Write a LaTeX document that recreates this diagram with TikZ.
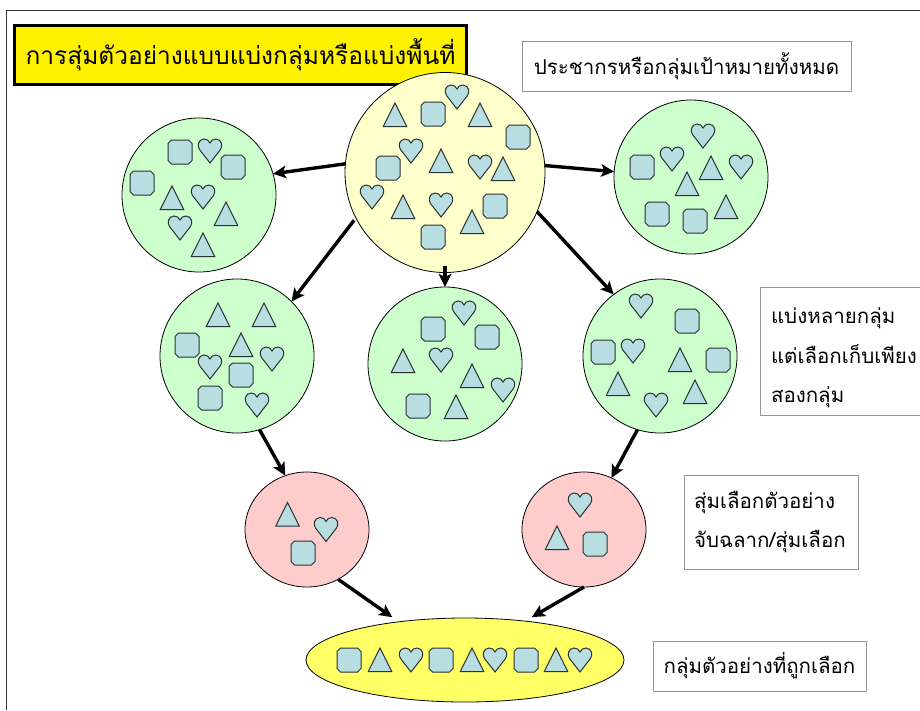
\documentclass[tikz,border=0pt]{standalone}
\usepackage{fontspec}
\usetikzlibrary{shapes.geometric,arrows.meta}
\newfontfamily\thaifont[Script=Thai]{Loma}
\definecolor{shapefill}{RGB}{184,222,226}
\definecolor{shapeedge}{RGB}{40,50,50}
\definecolor{biglight}{RGB}{255,255,204}
\definecolor{greenfill}{RGB}{204,255,204}
\definecolor{redfill}{RGB}{255,204,204}
\definecolor{ovalfill}{RGB}{255,255,102}
\definecolor{boxedge}{RGB}{150,150,150}
\tikzset{
 item/.style={fill=shapefill,draw=shapeedge,line width=1pt,line join=miter},
 blob/.style={ellipse,draw=black,line width=0.8pt,inner sep=0pt,outer sep=0pt},
 note/.style={draw=boxedge,line width=0.9pt,fill=white,inner sep=0pt,outer sep=0pt,font=\thaifont\fontsize{20.5}{39.5}\selectfont,anchor=north west,align=left},
 link/.style={line width=3.4pt,draw=black,-{Stealth[length=13pt,width=12.5pt,inset=3pt]}}
}
\newcommand{\oct}[2]{\draw[item,shift={(#1,#2)}] (-8.5,-12)--(8.5,-12)--(12,-8.5)--(12,8.5)--(8.5,12)--(-8.5,12)--(-12,8.5)--(-12,-8.5)--cycle;}
\newcommand{\tri}[2]{\draw[item,shift={(#1,#2)}] (0,-12)--(11.7,11.5)--(-11.7,11.5)--cycle;}
\newcommand{\hrt}[2]{\draw[item,shift={(#1,#2)}] (0,12) -- (-10.5,-1.5) .. controls (-13,-5) and (-12,-11.5) .. (-6,-12) .. controls (-3,-12) and (-1,-10.5) .. (0,-8) .. controls (1,-10.5) and (3,-12) .. (6,-12) .. controls (12,-11.5) and (13,-5) .. (10.5,-1.5) -- cycle;}
\begin{document}
\begin{tikzpicture}[x=1pt,y=-1pt]
\useasboundingbox (0,0) rectangle (920,710);
\fill[white] (0,0) rectangle (920,710);
\coordinate (frameA) at (6.3,710);
\coordinate (frameB) at (6.3,10.7);
\coordinate (frameC) at (920,10.7);
\draw[draw=black!80,line width=0.8pt] (frameA)--(frameB)--(frameC);
\node[draw=black,fill=yellow,line width=3pt,minimum width=452pt,minimum height=59pt,inner sep=0pt,anchor=north west,font=\thaifont\fontsize{24.5}{28}\selectfont] (title) at (13,24) {การสุ่มตัวอย่างแบบแบ่งกลุ่มหรือแบ่งพื้นที่};
\node[note,minimum width=329pt,minimum height=50pt,anchor=north west,align=center] (popbox) at (522,41) {ประชากรหรือกลุ่มเป้าหมายทั้งหมด};
\node[blob,fill=biglight,minimum width=200pt,minimum height=200pt] (big) at (445,172.5) {};
\node[blob,fill=greenfill,minimum width=154pt,minimum height=154pt] (gl) at (199,195) {};
\node[blob,fill=greenfill,minimum width=154pt,minimum height=154pt] (gr) at (691,177) {};
\node[blob,fill=greenfill,minimum width=154pt,minimum height=154pt] (ml) at (237,356) {};
\node[blob,fill=greenfill,minimum width=154pt,minimum height=154pt] (mc) at (445,364) {};
\node[blob,fill=greenfill,minimum width=154pt,minimum height=154pt] (mr) at (660,356) {};
\node[blob,fill=redfill,minimum width=124pt,minimum height=115pt] (rl) at (307,529.5) {};
\node[blob,fill=redfill,minimum width=124pt,minimum height=115pt] (rr) at (584,529.5) {};
\node[blob,fill=ovalfill,minimum width=318pt,minimum height=84pt] (oval) at (465,660) {};
\node[note,text width=161pt,minimum height=128pt,anchor=north west] (splitbox) at (760,287) {\rule{0pt}{30pt}\hspace*{11pt}แบ่งหลายกลุ่ม\\\hspace*{11pt}แต่เลือกเก็บเพียง\\\hspace*{11pt}สองกลุ่ม};
\node[note,text width=174pt,minimum height=94pt] (drawbox) at (684,475) {\hspace*{10pt}สุ่มเลือกตัวอย่าง\\\hspace*{10pt}จับฉลาก/สุ่มเลือก};
\node[note,minimum width=213pt,minimum height=50pt,align=center] (resbox) at (653,641) {กลุ่มตัวอย่างที่ถูกเลือก};
% big
\tri{395}{115}\oct{433}{114}\hrt{457}{97}\tri{480}{115}\oct{518}{137}\hrt{411}{151}\tri{441}{161}\hrt{480}{167}\tri{503}{169}\oct{388}{168}\hrt{372}{197}\tri{403}{207}\hrt{441}{205}\oct{495}{206}\tri{472}{222}\oct{433}{237}
% left
\oct{180}{152}\hrt{210}{151}\oct{233}{167}\oct{142}{183}\tri{172}{198}\hrt{203}{197}\tri{226}{214}\hrt{180}{228}\tri{203}{245}
% right
\hrt{703}{136}\hrt{672}{159}\tri{711}{168}\hrt{741}{167}\oct{642}{167}\tri{687}{184}\tri{726}{207}\oct{657}{214}\oct{695}{221}
% mid left
\tri{218}{315}\tri{264}{315}\oct{187}{345}\tri{241}{345}\hrt{272}{359}\hrt{210}{367}\oct{241}{375}\oct{210}{398}\hrt{257}{405}
% mid
\hrt{464}{313}\oct{433}{329}\oct{487}{337}\tri{403}{361}\hrt{441}{360}\tri{472}{376}\hrt{503}{390}\oct{418}{406}\tri{456}{407}
% mid right
\hrt{641}{306}\oct{687}{321}\oct{603}{352}\hrt{633}{351}\tri{680}{360}\oct{718}{360}\tri{618}{384}\tri{695}{392}\hrt{656}{405}
% red
\tri{287.5}{514.5}\hrt{326}{529.5}\oct{303}{553}
\hrt{580}{505}\tri{557}{538}\oct{595}{544}
% oval
\oct{349}{660}\tri{380}{660}\hrt{411}{660}\oct{441}{660}\tri{472}{660}\hrt{495}{660}\oct{526}{660}\tri{556}{660}\hrt{580}{660}
% links
\draw[link] (big.175)--(gl.16);
\draw[link] (big.4)--(gr.176);
\draw[link,shorten <=3pt] (big.207)--(ml.45);
\draw[link,shorten <=-7pt] (big.270)--(mc.90);
\draw[link] (big.-23)--(mr.127);
\draw[link] (ml.-73)--(rl.112);
\draw[link] (mr.253)--(rr.62);
\draw[link,shorten >=8pt] (rl.-58)--(oval.150.4);
\draw[link,shorten >=8pt] (rr.-90)--(oval.33);
\end{tikzpicture}
\end{document}
